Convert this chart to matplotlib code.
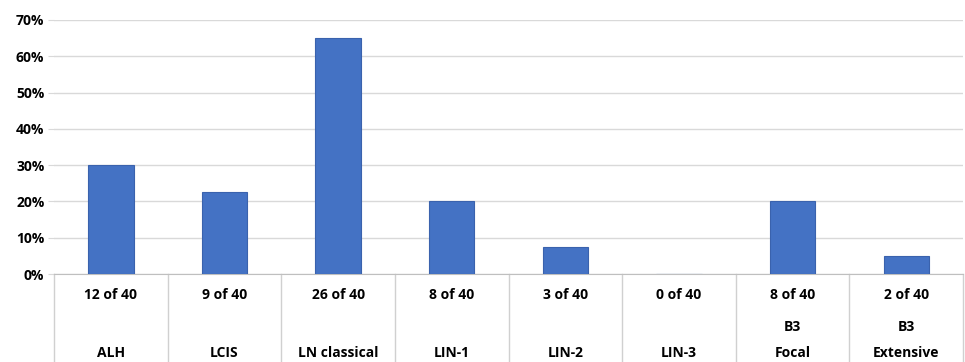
import matplotlib.pyplot as plt
import matplotlib.transforms as mtransforms
from matplotlib.ticker import PercentFormatter

plt.rcParams['font.family'] = ['Open Sans', 'DejaVu Sans']

counts = ['12 of 40', '9 of 40', '26 of 40', '8 of 40', '3 of 40', '0 of 40', '8 of 40', '2 of 40']
groups = ['', '', '', '', '', '', 'B3', 'B3']
labels = ['ALH', 'LCIS', 'LN classical', 'LIN-1', 'LIN-2', 'LIN-3', 'Focal', 'Extensive']
values = [30, 22.5, 65, 20, 7.5, 0, 20, 5]

fig = plt.figure(figsize=(9.65, 3.62), dpi=100)
ax = fig.add_axes([0.056, 0.243, 0.942, 0.702])

x = range(len(values))
ax.bar(x, values, width=0.4, color='#4472C4', edgecolor='#3A62AD', linewidth=0.8, zorder=3)

ax.set_xlim(-0.5, len(values) - 0.5)
ax.set_ylim(0, 70)
ax.set_yticks(range(0, 71, 10))
ax.yaxis.set_major_formatter(PercentFormatter(decimals=0))
ax.grid(axis='y', color='#D9D9D9', linewidth=1, zorder=0)
ax.tick_params(axis='y', length=4, color='#D9D9D9', labelsize=10, pad=3)
for lab in ax.get_yticklabels():
    lab.set_fontweight('bold')
ax.set_xticks([])
for s in ['top', 'right', 'left']:
    ax.spines[s].set_visible(False)
ax.spines['bottom'].set_color('#BFBFBF')

# category table under the axis
trans = mtransforms.blended_transform_factory(ax.transData, ax.transAxes)
for i in range(len(values) + 1):
    ax.plot([i - 0.5, i - 0.5], [0, -0.36], transform=trans, color='#D0D0D0',
            linewidth=1, clip_on=False)
for i in x:
    ax.text(i, -0.083, counts[i], transform=trans, ha='center', va='center',
            fontsize=10, fontweight='bold')
    if groups[i]:
        ax.text(i, -0.209, groups[i], transform=trans, ha='center', va='center',
                fontsize=10, fontweight='bold')
    ax.text(i, -0.311, labels[i], transform=trans, ha='center', va='center',
            fontsize=10, fontweight='bold')

fig.savefig('out.png', dpi=100)
